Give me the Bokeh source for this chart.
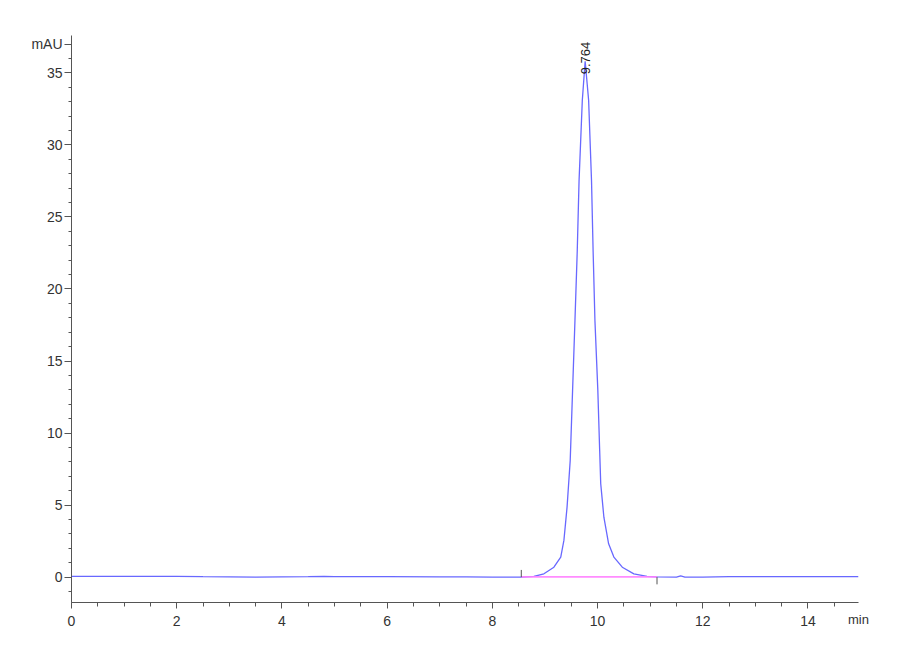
import math
from bokeh.plotting import figure
from bokeh.models import FixedTicker, Label, Range1d
from bokeh.embed import file_html
from bokeh.resources import INLINE

# ---- data ----
time_min = [0.0, 1.0, 2.0, 2.5, 3.5, 4.5, 4.8, 5.0, 6.0, 7.0, 7.5, 8.0, 8.55,
            8.79, 8.98, 9.17, 9.30, 9.36, 9.39, 9.42, 9.45, 9.48, 9.525, 9.57,
            9.614, 9.648, 9.71, 9.764, 9.83, 9.885, 9.915, 9.95, 10.005, 10.04,
            10.06, 10.12, 10.21, 10.31, 10.47, 10.69, 10.94, 11.13, 11.5, 11.58,
            11.66, 12.0, 12.5, 13.0, 14.0, 14.96]
absorb_mau = [0.05, 0.05, 0.05, 0.03, 0.0, 0.03, 0.05, 0.04, 0.03, 0.02, 0.02, 0.0, 0.0,
              0.05, 0.23, 0.69, 1.39, 2.55, 3.70, 4.86, 6.48, 8.10, 12.96, 17.8,
              22.67, 27.5, 33.1, 35.8, 33.1, 27.5, 22.67, 17.8, 12.96, 8.79,
              6.48, 4.16, 2.31, 1.39, 0.69, 0.23, 0.05, 0.02, 0.0, 0.08,
              0.0, 0.0, 0.03, 0.03, 0.03, 0.03]

peak_rt = 9.764
peak_label = "9.764"
peak_label_y = 34.9

baseline_t = [8.55, 11.13]
baseline_y = [0.02, 0.02]
event_t = [8.55, 11.13]
event_y0 = [0.0, 0.0]
event_y1 = [0.5, -0.5]

x_major = [0, 2, 4, 6, 8, 10, 12, 14]
x_minor = [i * 0.5 for i in range(0, 30)]
x_unit_label = "min"
y_major = [0, 5, 10, 15, 20, 25, 30, 35, 37]
y_minor = list(range(-1, 38))
y_label_overrides = {37: "mAU"}

FONT = "'Liberation Sans Narrow', 'Liberation Sans', Arial, sans-serif"

p = figure(width=872, height=652, output_backend="svg", toolbar_location=None,
           x_range=Range1d(0, 14.96), y_range=Range1d(-1.76, 37.59),
           min_border_left=71, min_border_right=14, min_border_top=35,
           min_border_bottom=50)
p.outline_line_color = None
p.xgrid.visible = False
p.ygrid.visible = False
p.background_fill_color = "white"

for ax in (p.xaxis[0], p.yaxis[0]):
    ax.axis_line_color = "#555555"
    ax.major_tick_line_color = "#555555"
    ax.minor_tick_line_color = "#555555"
    ax.major_label_text_font = FONT
    ax.major_label_text_font_size = "14px"
    ax.major_label_text_color = "#333333"

p.xaxis.ticker = FixedTicker(ticks=x_major, minor_ticks=x_minor)
p.yaxis.ticker = FixedTicker(ticks=y_major, minor_ticks=y_minor)
p.yaxis.major_label_overrides = y_label_overrides
p.xaxis.major_tick_out = 6
p.xaxis.major_tick_in = 0
p.xaxis.minor_tick_out = 4
p.xaxis.minor_tick_in = 0
p.yaxis.major_tick_out = 7
p.yaxis.major_tick_in = 0
p.yaxis.minor_tick_out = 3
p.yaxis.minor_tick_in = 0
p.xaxis.major_label_standoff = 7
p.yaxis.major_label_standoff = 2

xa = p.xaxis[0]
xa.axis_label = x_unit_label
xa.axis_label_align = "end"
xa.axis_label_standoff = -17
xa.axis_label_text_font = FONT
xa.axis_label_text_font_size = "13px"
xa.axis_label_text_font_style = "normal"
xa.axis_label_text_color = "#333333"

# signal trace
p.line(time_min, absorb_mau, line_color="#4d4dff", line_width=1.3, line_alpha=0.85)
# integration baseline
p.line(baseline_t, baseline_y, line_color="#ff80ff", line_width=1.6, line_alpha=0.9)
# integration event marks
p.segment(x0=event_t, y0=event_y0, x1=event_t, y1=event_y1,
          line_color="#555555", line_width=1)

p.add_layout(Label(x=peak_rt, y=peak_label_y, text=peak_label, angle=math.pi / 2,
                   text_align="left", text_baseline="middle", text_font=FONT,
                   text_font_size="13px", text_color="#222222"))

open("out.html", "w").write(file_html(p, INLINE))
